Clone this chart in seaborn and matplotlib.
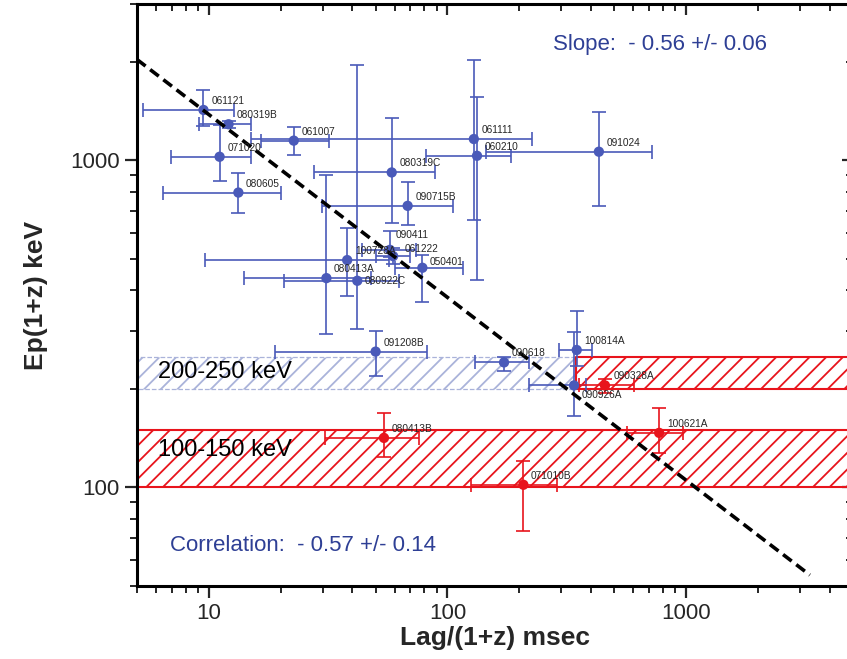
import matplotlib
matplotlib.use("Agg")
import matplotlib.pyplot as plt
from matplotlib.ticker import FuncFormatter, NullFormatter, FixedLocator
import seaborn as sns
import pandas as pd

# GRB sample: lag (msec), Ep(1+z) (keV) and error bar ends
names = ['061121', '080319B', '071020', '080605', '061007', '061111', '060210',
         '091024', '080319C', '090715B', '080413A', '080922C', '100728A', '090411',
         '061222', '050401', '091208B', '090618', '100814A', '090926A',
         '080413B', '071010B', '100621A', '090328A']
lag = [9.5, 12.1, 11.1, 13.3, 22.7, 129, 133, 431, 58.4, 68.1, 31.1, 41.9, 38.0, 57.4,
       59.2, 78.5, 50, 172.6, 348, 339,
       54.2, 208, 771, 457]
lag_lo = [5.3, 9.1, 6.95, 6.4, 16.5, 15, 81, 145, 27.7, 29.8, 14, 20.6, 9.6, 43.8,
          50, 60, 19, 131, 293, 220,
          30.8, 125, 567, 356]
lag_hi = [12.7, 15.0, 15.0, 20.1, 31.8, 227, 185, 718, 88.7, 106, 47.6, 62.7, 57, 73.6,
          70, 116, 81.8, 219, 404, 380,
          76, 288, 970, 605]
ep = [1423, 1287, 1024, 796, 1147, 1160, 1031, 1061, 917, 725, 436, 428, 495, 532,
      509, 469, 260, 241, 263, 205,
      141.7, 101.9, 146.8, 205]
ep_lo = [1268, 1250, 862, 690, 1036, 655, 431, 725, 643, 632, 295, 305, 385, 506,
         480, 368, 219, 227, 235, 165,
         124, 73.8, 127, 195]
ep_hi = [1640, 1316, 1280, 915, 1266, 2026, 1564, 1407, 1343, 855, 900, 1958, 621, 606,
         540, 512, 301, 250, 345, 298,
         169, 120.8, 175, 215]
group = ['blue'] * 20 + ['red'] * 4

# fitted power law, slope -0.56
fit_x = [5, 3300]
fit_y = [2030, 54]

# hatched energy bands
band_x0 = [5, 5, 345]
band_x1 = [5000, 345, 5000]
band_lo = [100, 200, 200]
band_hi = [150, 250, 250]
band_col = ['red', 'blueband', 'red']

blue = '#4a5ab9'
red = '#e8141c'
textblue = '#2e3f95'
colors = {'blue': blue, 'red': red, 'blueband': '#aab3da'}

# label nudges where names crowd together
nudge = {'090411': (4, 11), '061222': (8, 5), '050401': (5.5, 4), '080922C': (5.5, 0),
         '090926A': (5.5, -7), '090328A': (6, 6.5)}

df = pd.DataFrame({'name': names, 'lag': lag, 'lag_lo': lag_lo, 'lag_hi': lag_hi,
                   'ep': ep, 'ep_lo': ep_lo, 'ep_hi': ep_hi, 'group': group})

sns.set_style("ticks")
plt.rcParams['font.family'] = ['Liberation Sans', 'DejaVu Sans']
plt.rcParams['hatch.linewidth'] = 1.3

fig = plt.figure(figsize=(8.47, 6.59), dpi=100)
ax = fig.add_axes([0.1617, 0.1108, 0.8453, 0.8832])
ax.set_xscale('log')
ax.set_yscale('log')

for x0, x1, lo, hi, c in zip(band_x0, band_x1, band_lo, band_hi, band_col):
    if c == 'red':
        ax.fill_between([x0, x1], lo, hi, facecolor='none', edgecolor=colors[c],
                        hatch='//', lw=1.5, zorder=1)
    else:
        ax.fill_between([x0, x1], lo, hi, facecolor='none', edgecolor=colors[c],
                        hatch='//', lw=0.9, ls='--', zorder=1)

for g, sub in df.groupby('group'):
    xerr = [sub['lag'] - sub['lag_lo'], sub['lag_hi'] - sub['lag']]
    yerr = [sub['ep'] - sub['ep_lo'], sub['ep_hi'] - sub['ep']]
    ax.errorbar(sub['lag'], sub['ep'], xerr=xerr, yerr=yerr, fmt='none',
                ecolor=colors[g], elinewidth=1.2, capsize=5, capthick=1.2, zorder=3)

sns.scatterplot(data=df, x='lag', y='ep', hue='group', palette=colors, s=55,
                edgecolor='none', legend=False, ax=ax, zorder=4)

for _, r in df.iterrows():
    ax.annotate(r['name'], (r['lag'], r['ep']), xytext=nudge.get(r['name'], (5.5, 6.5)),
                textcoords='offset points', fontsize=7.3, va='center', ha='left', zorder=7)

ax.plot(fit_x, fit_y, color='black', lw=2.6, ls=(0, (3, 1.6)), zorder=6)

ax.set_xlim(5, 5000)
ax.set_ylim(50, 3000)

fmt = FuncFormatter(lambda v, p: f'{v:g}')
ax.xaxis.set_major_locator(FixedLocator([10, 100, 1000]))
ax.yaxis.set_major_locator(FixedLocator([100, 1000]))
ax.xaxis.set_major_formatter(fmt)
ax.yaxis.set_major_formatter(fmt)
ax.xaxis.set_minor_formatter(NullFormatter())
ax.yaxis.set_minor_formatter(NullFormatter())
ax.tick_params(which='major', direction='out', length=8.5, width=1.6, labelsize=16, pad=4)
ax.tick_params(which='minor', direction='out', length=5, width=1.4)

for side in ['top', 'right']:
    if side == 'top':
        sec = ax.secondary_xaxis('top')
        sec.tick_params(labeltop=False)
    else:
        sec = ax.secondary_yaxis('right')
        sec.tick_params(labelright=False)
    sec.tick_params(which='major', direction='in', length=8, width=1.6)
    sec.tick_params(which='minor', direction='in', length=5, width=1.4)

for s in ax.spines.values():
    s.set_linewidth(2.2)
    s.set_color('black')

ax.set_xlabel('Lag/(1+z) msec', fontsize=19, fontweight='bold', labelpad=1)
ax.set_ylabel('Ep(1+z) keV', fontsize=19, fontweight='bold', labelpad=16)

ax.text(0.581, 0.931, 'Slope:  - 0.56 +/- 0.06', color=textblue, fontsize=16,
        transform=ax.transAxes, va='center', ha='left')
ax.text(0.046, 0.0704, 'Correlation:  - 0.57 +/- 0.14', color=textblue, fontsize=16,
        transform=ax.transAxes, va='center', ha='left')
ax.text(0.0293, 0.368, '200-250 keV', color='black', fontsize=17,
        transform=ax.transAxes, va='center', ha='left', zorder=7)
ax.text(0.0293, 0.2337, '100-150 keV', color='black', fontsize=17,
        transform=ax.transAxes, va='center', ha='left', zorder=7)

fig.savefig('out.png', dpi=100)
